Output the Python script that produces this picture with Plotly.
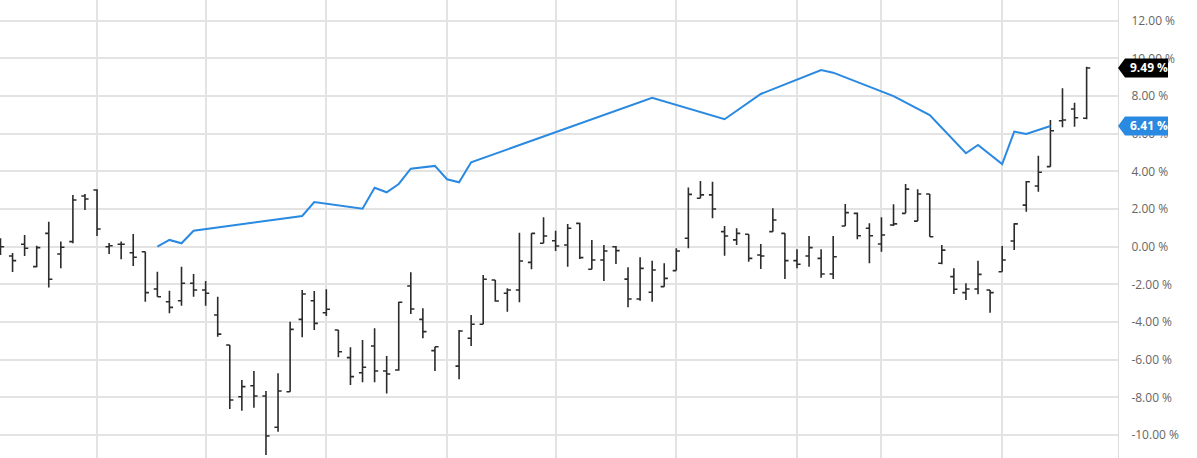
import plotly.graph_objects as go

# ---- data (percent change) ----
bar_idx = [i for i in range(91) if i != 37]
opens = [0.20, -0.49, 0.13, -1.06, 0.71, -0.39, 0.27, 2.69, 3.01, 0.00,
         0.13, -0.32, -0.27, -2.25, -2.92, -2.87, -1.94, -2.30, -3.63, -5.22,
         -7.97, -7.38, -7.93, -9.59, -7.70, -3.86, -2.87, -3.51, -4.42, -5.89,
         -6.69, -5.27, -6.60, -6.55, -2.09, -3.86, -5.52,
         -6.34, -4.86, -4.12, -1.77, -2.47, -2.30, -0.83, 0.18, 0.32, 0.09,
         1.24, -1.20, -0.71, 0.00, -1.72, -2.78, -2.42, -2.12, -1.27, 0.45,
         2.57, 2.75, 0.80, 0.36, 0.66, -0.44, 0.80, 0.71, -0.74, -0.49,
         -0.62, -1.45, 1.10, 1.77, 0.98, 0.14, 1.15, 1.77, 1.36, 2.80,
         -0.88, -1.59, -2.44, -2.25, -2.30, -1.33, 0.30, 2.21, 3.22, 4.25,
         6.69, 7.31, 6.82]
highs = [0.45, -0.33, 0.62, 0.05, 1.33, 0.27, 2.75, 2.80, 3.05, 0.20,
         0.27, 0.67, -0.27, -1.33, -2.34, -1.06, -1.45, -1.82, -2.66, -5.22,
         -7.08, -6.60, -7.66, -6.72, -3.98, -2.30, -2.35, -2.26, -4.42, -5.34,
         -4.95, -4.33, -5.80, -2.92, -1.36, -3.27, -5.31,
         -4.42, -3.63, -1.50, -1.77, -2.21, 0.74, 0.71, 1.56, 0.85, 1.21,
         1.27, 0.36, 0.09, 0.04, -1.09, -0.56, -0.74, -0.88, -0.08, 3.15,
         3.49, 3.45, 1.10, 0.98, 0.66, 0.14, 2.04, 0.71, -0.14, 0.57,
         -0.14, 0.57, 2.27, 1.81, 1.24, 1.56, 2.25, 3.33, 3.05, 2.80,
         0.09, -1.15, -1.94, -0.74, -2.30, 0.04, 1.24, 3.49, 4.83, 6.73,
         8.41, 7.65, 9.55]
lows = [-0.44, -1.34, -0.49, -1.09, -2.16, -1.15, 0.18, 1.95, 0.57, -0.39,
        -0.67, -1.02, -2.92, -2.66, -3.54, -3.13, -2.66, -3.13, -4.78, -8.62,
        -8.71, -8.55, -11.06, -9.82, -7.70, -4.81, -4.42, -3.68, -5.87, -7.34,
        -7.20, -7.20, -7.79, -6.59, -3.57, -4.86, -6.60,
        -7.04, -5.27, -4.12, -2.92, -3.45, -2.95, -1.20, 0.18, -0.23, -1.06,
        -0.65, -1.20, -1.82, -0.92, -3.22, -2.87, -2.92, -2.12, -1.27, -0.08,
        2.57, 1.51, -0.48, 0.09, -0.80, -1.18, 0.80, -1.72, -1.15, -1.06,
        -1.65, -1.72, 1.10, 0.39, -0.88, -0.27, 1.10, 1.77, 1.36, 0.53,
        -0.93, -2.51, -2.83, -2.53, -3.51, -1.33, -0.18, 1.86, 2.92, 4.25,
        6.34, 6.37, 6.77]
closes = [0.00, -0.74, -0.08, -0.05, -1.73, -0.03, 2.48, 2.53, 0.94, 0.05,
          0.13, -0.56, -2.44, -2.66, -3.22, -1.94, -2.30, -2.47, -4.64, -8.14,
          -7.43, -7.93, -10.05, -7.66, -4.39, -2.51, -4.07, -3.32, -5.58, -6.90,
          -6.40, -6.60, -6.76, -2.95, -3.31, -4.51, -5.31,
          -4.48, -4.12, -1.73, -2.88, -2.30, -0.76, 0.71, 0.57, 0.04, 0.98,
          -0.58, -0.71, -0.23, -0.21, -2.78, -1.15, -1.24, -1.68, -0.23, 2.78,
          2.75, 2.00, 0.57, 0.71, -0.62, -0.49, 1.42, -0.74, -0.93, -0.05,
          -1.45, -0.53, 1.81, 0.58, 0.58, 0.62, 1.21, 3.06, 2.80, 0.53,
          -0.18, -2.26, -2.25, -1.47, -2.44, -0.71, 1.21, 3.45, 3.95, 6.16,
          6.73, 6.85, 9.49]

cmp_idx = [13, 14, 15, 16, 25, 26, 30, 31, 32, 33, 34, 36, 37, 38, 39,
           54, 60, 63, 68, 69, 74, 77, 80, 81, 83, 84, 85, 87]
cmp_vals = [0.00, 0.36, 0.18, 0.85, 1.63, 2.37, 2.02, 3.13, 2.89, 3.33, 4.14,
            4.29, 3.58, 3.42, 4.48, 7.91, 6.77, 8.11, 9.38, 9.24, 8.00, 6.99,
            4.96, 5.40, 4.39, 6.11, 5.99, 6.41]

grid_idx = [8, 17, 27, 37, 46, 56, 66, 73, 83]
y_ticks = [-10, -8, -6, -4, -2, 0, 2, 4, 6, 8, 10, 12]
y_tick_text = [f"{v:.2f} %" for v in y_ticks]

BLUE = "#2a89e1"
Y_MIN, Y_MAX = -11.22, 13.10
W, H = 1197, 458
R_MARGIN = 79
PLOT_W = W - R_MARGIN

fig = go.Figure()
fig.add_trace(go.Ohlc(
    x=bar_idx, open=opens, high=highs, low=lows, close=closes,
    increasing=dict(line=dict(color="#2b2b2b", width=1.6)),
    decreasing=dict(line=dict(color="#2b2b2b", width=1.6)),
    tickwidth=0.3, showlegend=False, hoverinfo="skip",
))
fig.add_trace(go.Scatter(
    x=cmp_idx, y=cmp_vals, mode="lines",
    line=dict(color=BLUE, width=2), showlegend=False, hoverinfo="skip",
))

# value tags on the right axis
units_per_px = (Y_MAX - Y_MIN) / H
half = 9.5 * units_per_px
x0 = 1.0
x1 = 1.0 + 7 / PLOT_W
x2 = 1.0 + 50 / PLOT_W
shapes = []
annotations = []
for val, col in [(closes[-1], "#000000"), (cmp_vals[-1], BLUE)]:
    path = (f"M {x0},{val} L {x1},{val + half} L {x2},{val + half} "
            f"L {x2},{val - half} L {x1},{val - half} Z")
    shapes.append(dict(type="path", xref="paper", yref="y", path=path,
                       fillcolor=col, line=dict(width=0), layer="above"))
    annotations.append(dict(x=1.0, xref="paper", y=val, yref="y",
                            xanchor="left", yanchor="middle", xshift=10,
                            text=f"<b>{val:.2f} %</b>", showarrow=False,
                            font=dict(color="white", size=12, family="Open Sans")))

fig.update_layout(
    width=W, height=H, autosize=False,
    margin=dict(l=0, r=R_MARGIN, t=0, b=0),
    paper_bgcolor="white", plot_bgcolor="white",
    font=dict(family="Open Sans", size=12, color="#666"),
    shapes=shapes, annotations=annotations,
    xaxis=dict(
        range=[-0.04, 92.6], tickvals=grid_idx, showticklabels=False,
        showgrid=True, gridcolor="#e3e3e3", gridwidth=1.5, zeroline=False,
        rangeslider=dict(visible=False), fixedrange=True,
    ),
    yaxis=dict(
        side="right", range=[Y_MIN, Y_MAX], tickvals=y_ticks, ticktext=y_tick_text,
        showgrid=True, gridcolor="#e3e3e3", gridwidth=1.5, zeroline=False,
        showline=True, linecolor="#dcdcdc", linewidth=1,
        ticks="", ticklabelstandoff=10, fixedrange=True,
        tickfont=dict(family="Open Sans", size=12, color="#666"),
    ),
)

fig.write_html("out.html", config={"displayModeBar": False})

# remove the browser's default page margin so the figure sits at the top-left corner
with open("out.html", "r", encoding="utf-8") as f:
    html = f.read()
html = html.replace("<head>", "<head><style>html,body{margin:0;padding:0;overflow:hidden;}</style>", 1)
with open("out.html", "w", encoding="utf-8") as f:
    f.write(html)
